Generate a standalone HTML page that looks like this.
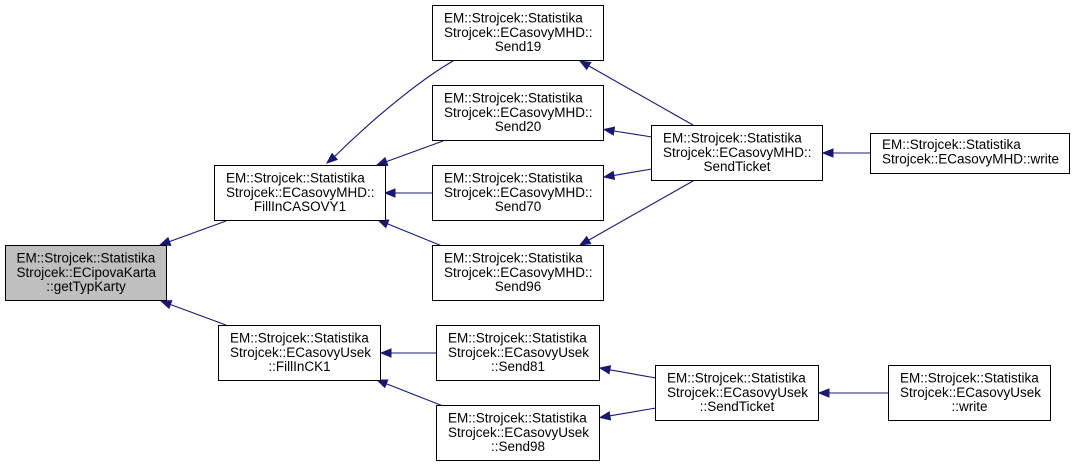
<!DOCTYPE html>
<html>
<head>
<meta charset="utf-8">
<style>
html,body{margin:0;padding:0;background:#fff;}
svg{display:block;}
text{font-family:"Liberation Sans",Arial,sans-serif;font-size:13.5px;fill:#000;}
.b{fill:#fff;stroke:#000;stroke-width:1;}
.g{fill:#bfbfbf;stroke:#000;stroke-width:1;}
.e{fill:none;stroke:#191970;stroke-width:1.1;}
.a{fill:#191970;stroke:#191970;stroke-width:1;}
.m{text-anchor:middle;}
</style>
</head>
<body>
<svg width="1075" height="467" viewBox="0 0 1075 467" xmlns="http://www.w3.org/2000/svg">
<!-- edges -->
<path class="e" d="M226,221 L169.4,241.6"/>
<polygon class="a" points="160,245 168.0,237.8 170.8,245.3"/>
<path class="e" d="M226,325 L170.4,304.5"/>
<polygon class="a" points="161,301 171.8,300.7 169.0,308.2"/>

<path class="e" d="M453,61 C425,77 380,112 334.6,156.5"/>
<polygon class="a" points="327,163 332.0,153.5 337.2,159.5"/>
<path class="e" d="M443,141 L386.4,161.6"/>
<polygon class="a" points="377,165 385.0,157.8 387.8,165.3"/>
<path class="e" d="M433,193 L395,193"/>
<polygon class="a" points="385,193 395,189 395,197"/>
<path class="e" d="M442,246 L387.3,223.8"/>
<polygon class="a" points="378,220 388.8,220.1 385.8,227.5"/>

<path class="e" d="M693,125 L588.7,65.9"/>
<polygon class="a" points="580,61 590.7,62.5 586.7,69.4"/>
<path class="e" d="M652,137 L613.9,131.0"/>
<polygon class="a" points="604,129.5 614.5,127.1 613.3,135.0"/>
<path class="e" d="M652,169 L613.9,175.4"/>
<polygon class="a" points="604,177 613.2,171.4 614.5,179.3"/>
<path class="e" d="M693,181 L588.7,240.1"/>
<polygon class="a" points="580,245 586.7,236.6 590.7,243.6"/>

<path class="e" d="M870,153 L833,153"/>
<polygon class="a" points="823,153 833,149 833,157"/>

<path class="e" d="M437,353 L391,353"/>
<polygon class="a" points="381,353 391,349 391,357"/>
<path class="e" d="M443,406 L386.3,383.7"/>
<polygon class="a" points="377,380 387.8,380.0 384.8,387.4"/>

<path class="e" d="M656,378 L609.8,369.8"/>
<polygon class="a" points="600,368 610.5,365.8 609.1,373.7"/>
<path class="e" d="M656,408 L609.9,415.8"/>
<polygon class="a" points="600,417.5 609.2,411.9 610.5,419.8"/>

<path class="e" d="M888,393 L829,393"/>
<polygon class="a" points="819,393 829,389 829,397"/>

<!-- nodes -->
<rect class="g" x="5.5" y="245.5" width="161" height="55"/>
<text x="16.5" y="262.5">EM::Strojcek::Statistika</text>
<text x="16.5" y="276.8">Strojcek::ECipovaKarta</text>
<text class="m" x="86" y="291.1">::getTypKarty</text>

<rect class="b" x="214.5" y="165.5" width="171" height="55"/>
<text x="226" y="182.5">EM::Strojcek::Statistika</text>
<text x="226" y="196.8">Strojcek::ECasovyMHD::</text>
<text class="m" x="300" y="211.1">FillInCASOVY1</text>

<rect class="b" x="218.5" y="325.5" width="162" height="55"/>
<text x="230" y="342.5">EM::Strojcek::Statistika</text>
<text x="230" y="356.8">Strojcek::ECasovyUsek</text>
<text class="m" x="299.5" y="371.1">::FillInCK1</text>

<rect class="b" x="432.5" y="5.5" width="171" height="55"/>
<text x="444" y="22.5">EM::Strojcek::Statistika</text>
<text x="444" y="36.8">Strojcek::ECasovyMHD::</text>
<text class="m" x="518" y="51.1">Send19</text>

<rect class="b" x="432.5" y="85.5" width="171" height="55"/>
<text x="444" y="102.5">EM::Strojcek::Statistika</text>
<text x="444" y="116.8">Strojcek::ECasovyMHD::</text>
<text class="m" x="518" y="131.1">Send20</text>

<rect class="b" x="432.5" y="165.5" width="171" height="55"/>
<text x="444" y="182.5">EM::Strojcek::Statistika</text>
<text x="444" y="196.8">Strojcek::ECasovyMHD::</text>
<text class="m" x="518" y="211.1">Send70</text>

<rect class="b" x="432.5" y="245.5" width="171" height="55"/>
<text x="444" y="262.5">EM::Strojcek::Statistika</text>
<text x="444" y="276.8">Strojcek::ECasovyMHD::</text>
<text class="m" x="518" y="291.1">Send96</text>

<rect class="b" x="651.5" y="125.5" width="171" height="55"/>
<text x="663" y="142.5">EM::Strojcek::Statistika</text>
<text x="663" y="156.8">Strojcek::ECasovyMHD::</text>
<text class="m" x="737" y="171.1">SendTicket</text>

<rect class="b" x="870.5" y="133.5" width="199" height="40"/>
<text x="882" y="149">EM::Strojcek::Statistika</text>
<text x="882" y="163.5">Strojcek::ECasovyMHD::write</text>

<rect class="b" x="436.5" y="325.5" width="163" height="55"/>
<text x="448" y="342.5">EM::Strojcek::Statistika</text>
<text x="448" y="356.8">Strojcek::ECasovyUsek</text>
<text class="m" x="518" y="371.1">::Send81</text>

<rect class="b" x="436.5" y="405.5" width="163" height="55"/>
<text x="448" y="422.5">EM::Strojcek::Statistika</text>
<text x="448" y="436.8">Strojcek::ECasovyUsek</text>
<text class="m" x="518" y="451.1">::Send98</text>

<rect class="b" x="655.5" y="365.5" width="163" height="55"/>
<text x="667" y="382.5">EM::Strojcek::Statistika</text>
<text x="667" y="396.8">Strojcek::ECasovyUsek</text>
<text class="m" x="737" y="411.1">::SendTicket</text>

<rect class="b" x="888.5" y="365.5" width="162" height="55"/>
<text x="900" y="382.5">EM::Strojcek::Statistika</text>
<text x="900" y="396.8">Strojcek::ECasovyUsek</text>
<text class="m" x="969.5" y="411.1">::write</text>
</svg>
</body>
</html>
